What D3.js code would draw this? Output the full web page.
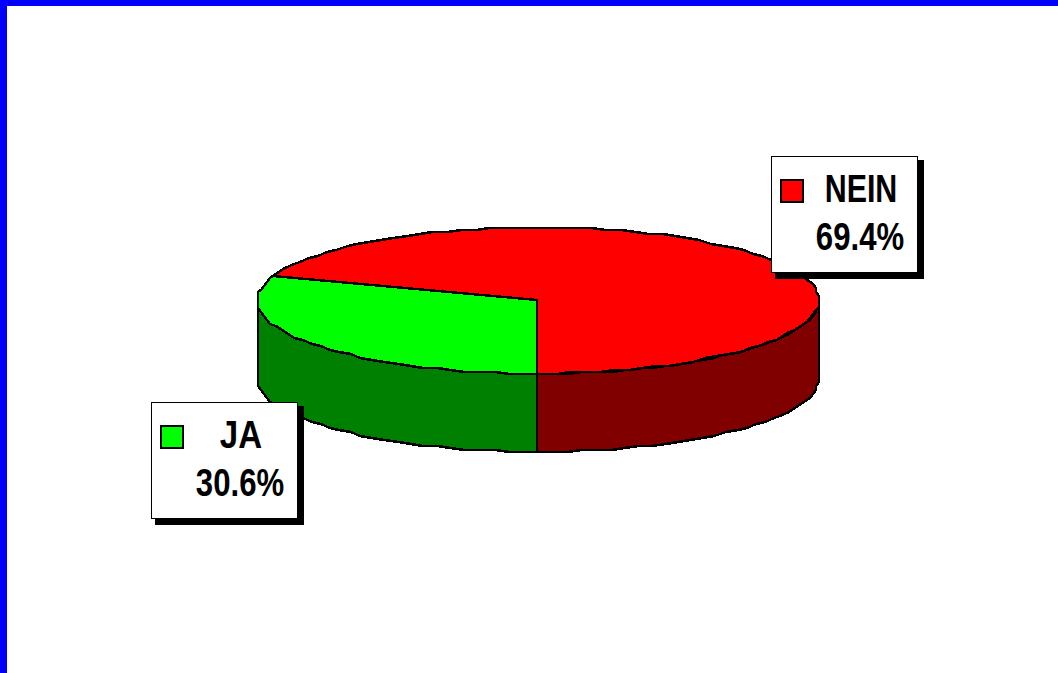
<!DOCTYPE html>
<html>
<head>
<meta charset="utf-8">
<script src="https://cdn.jsdelivr.net/npm/d3@7"></script>
<style>
    html, body {margin: 0; padding: 0; background: #fff; overflow: hidden;}
    svg {display: block;}
    .label {font-family: "Liberation Sans", sans-serif; font-weight: bold; font-size: 38px; text-anchor: middle; fill: #000;}
</style>
</head>
<body>
<svg id="paper"></svg>
<script>
let categories = ["NEIN", "JA"];
let values = [69.4, 30.6];
let topColors = ["#ff0000", "#00ff00"];
let wallColors = ["#800000", "#008000"];

let width = 1058, height = 673;
let cx = 538, cy = 300.5, rx = 281, ry = 73, depth = 78;
let step = Math.PI / 60;
let gridX = 3, gridY = 2;   // the outline sits on a coarse raster

let svg = d3.select("#paper").attr("width", width).attr("height", height);

// blue frame, only on the top and left
svg.append("rect").attr("width", width).attr("height", 6).attr("fill", "#0000ff");
svg.append("rect").attr("width", 7).attr("height", height).attr("fill", "#0000ff");

// unit circle -> flattened ellipse
let x = d3.scaleLinear().domain([-1, 1]).range([cx - rx, cx + rx]);
let y = d3.scaleLinear().domain([-1, 1]).range([cy - ry, cy + ry]);

let total = d3.sum(values);
let start = Math.PI - 2 * Math.PI * values[0] / total;
let pie = d3.pie().sort(null).startAngle(start).endAngle(start + 2 * Math.PI);
let slices = pie(values);

let line = d3.line()
    .x(d => Math.round(d[0] / gridX) * gridX)
    .y(d => Math.round(d[1] / gridY) * gridY);

function rim(a0, a1) {
    let pts = d3.range(a0, a1, step).concat([a1]);
    return pts.map(a => [x(Math.sin(a)), y(-Math.cos(a))]);
}

// front walls, only the lower half of the ellipse shows
let walls = svg.append("g").attr("shape-rendering", "crispEdges");
slices.forEach((d, i) => {
    let turn = 2 * Math.PI;
    [0, turn, -turn].forEach(off => {
        let a0 = Math.max(d.startAngle + off, Math.PI / 2);
        let a1 = Math.min(d.endAngle + off, 3 * Math.PI / 2);
        if (a1 <= a0) return;
        let front = rim(a0, a1);
        let back = front.map(p => [p[0], p[1] + depth]).reverse();
        walls.append("path")
            .attr("d", line(front.concat(back)) + "Z")
            .attr("fill", wallColors[i])
            .attr("stroke", "#000")
            .attr("stroke-width", 2.5)
            .attr("stroke-linejoin", "round");
    });
});

// top faces
let tops = svg.append("g").attr("shape-rendering", "crispEdges");
slices.forEach((d, i) => {
    let pts = [[cx, cy]].concat(rim(d.startAngle, d.endAngle));
    tops.append("path")
        .attr("d", line(pts) + "Z")
        .attr("fill", topColors[i])
        .attr("stroke", "#000")
        .attr("stroke-width", 2.5)
        .attr("stroke-linejoin", "round");
});

// label boxes
let boxX = [771, 151], boxY = [156, 402];
let nameSqueeze = [0.8, 0.87];
let pct = d3.format(".1f");
categories.forEach((name, i) => {
    let g = svg.append("g")
        .attr("transform", "translate(" + boxX[i] + "," + boxY[i] + ")");
    g.append("rect").attr("x", 4).attr("y", 4).attr("width", 149).attr("height", 118.5)
        .attr("fill", "#000").attr("shape-rendering", "crispEdges");
    g.append("rect").attr("x", 0.5).attr("y", 0.5).attr("width", 146).attr("height", 116)
        .attr("fill", "#fff").attr("stroke", "#000").attr("stroke-width", 1)
        .attr("shape-rendering", "crispEdges");
    g.append("rect").attr("x", 10).attr("y", 24).attr("width", 22).attr("height", 22)
        .attr("fill", topColors[i]).attr("stroke", "#000").attr("stroke-width", 2)
        .attr("shape-rendering", "crispEdges");
    // no narrow face installed, so squeeze the bold one
    g.append("text").attr("class", "label")
        .attr("transform", "translate(90,46) scale(" + nameSqueeze[i] + ",1)").text(name);
    g.append("text").attr("class", "label")
        .attr("transform", "translate(89,94) scale(0.82,1)").text(pct(values[i]) + "%");
});
</script>
</body>
</html>
